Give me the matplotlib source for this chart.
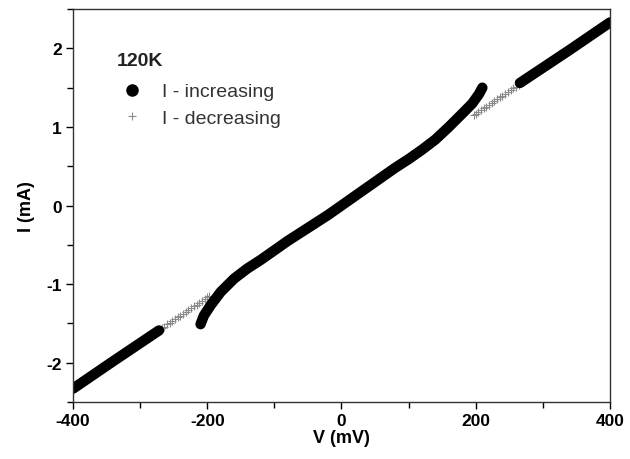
import matplotlib
matplotlib.use("Agg")
import matplotlib.pyplot as plt
from matplotlib.ticker import MultipleLocator
from matplotlib.lines import Line2D

plt.rcParams["font.family"] = ["Liberation Sans", "DejaVu Sans"]
plt.rcParams["axes.unicode_minus"] = False

# I - increasing branch, three pieces
inc_left_v = [-400, -340, -272]
inc_left_i = [-2.33, -1.98, -1.59]

inc_mid_v = [-210, -205, -195, -180, -160, -140, -120, -100, -80, -60, -40, -20,
             0, 20, 40, 60, 80, 100, 120, 140, 160, 180, 195, 205, 210]
inc_mid_i = [-1.51, -1.40, -1.27, -1.10, -0.93, -0.80, -0.69, -0.57, -0.45, -0.34, -0.23, -0.12,
             0.0, 0.12, 0.24, 0.36, 0.48, 0.59, 0.71, 0.84, 1.00, 1.17, 1.30, 1.42, 1.50]

inc_right_v = [266, 340, 400]
inc_right_i = [1.56, 1.98, 2.33]

# I - decreasing branch, only visible where it departs from the black curve
dec_neg_v = [-268, -264, -260, -256, -252, -248, -244, -240, -236, -232, -228, -224,
             -220, -216, -212, -208, -204, -200, -197]
dec_neg_i = [-1.56, -1.54, -1.51, -1.49, -1.47, -1.45, -1.42, -1.40, -1.38, -1.35, -1.33, -1.31,
             -1.28, -1.26, -1.24, -1.21, -1.19, -1.17, -1.15]
dec_pos_v = [197, 200, 204, 208, 212, 216, 220, 224, 228, 232, 236, 240, 244, 248, 252,
             256, 260, 264]
dec_pos_i = [1.15, 1.17, 1.19, 1.21, 1.24, 1.26, 1.28, 1.31, 1.33, 1.35, 1.38, 1.40, 1.42, 1.45, 1.47,
             1.49, 1.51, 1.54]

fig = plt.figure(figsize=(6.3, 4.6), dpi=100)
ax = fig.add_axes([0.116, 0.124, 0.852, 0.854])

gray = "#8a8a8a"
ax.plot(dec_neg_v, dec_neg_i, ls="none", marker="+", ms=6, mew=0.8, color=gray)
ax.plot(dec_pos_v, dec_pos_i, ls="none", marker="+", ms=6, mew=0.8, color=gray)

for v, i in [(inc_left_v, inc_left_i), (inc_mid_v, inc_mid_i), (inc_right_v, inc_right_i)]:
    ax.plot(v, i, color="black", lw=7.5, solid_capstyle="round", solid_joinstyle="round")

ax.set_xlim(-400, 400)
ax.set_ylim(-2.5, 2.5)
ax.xaxis.set_major_locator(MultipleLocator(200))
ax.xaxis.set_minor_locator(MultipleLocator(100))
ax.yaxis.set_major_locator(MultipleLocator(1))
ax.yaxis.set_minor_locator(MultipleLocator(0.5))
ax.tick_params(which="major", direction="out", length=5, width=1, labelsize=12.5, pad=3)
ax.tick_params(which="minor", direction="out", length=4, width=1)
for lab in ax.get_xticklabels() + ax.get_yticklabels():
    lab.set_fontweight("bold")
for sp in ax.spines.values():
    sp.set_linewidth(1.0)
    sp.set_color("#333333")

ax.set_xlabel("V (mV)", fontsize=13, fontweight="bold", labelpad=1)
ax.set_ylabel("I (mA)", fontsize=13, fontweight="bold", labelpad=8)

ax.text(0.082, 0.870, "120K", transform=ax.transAxes, fontsize=14, fontweight="bold",
        va="center", ha="left", color="#222222")
handles = [
    Line2D([], [], ls="none", marker="o", ms=8, color="black"),
    Line2D([], [], ls="none", marker="+", ms=6, mew=0.8, color=gray),
]
ax.legend(handles, ["I - increasing", "I - decreasing"], loc="upper left",
          bbox_to_anchor=(0.076, 0.837), frameon=False, fontsize=14,
          handlelength=0.9, handletextpad=1.1, labelspacing=0.45, borderpad=0,
          labelcolor="#333333")

fig.savefig("out.png", dpi=100)
